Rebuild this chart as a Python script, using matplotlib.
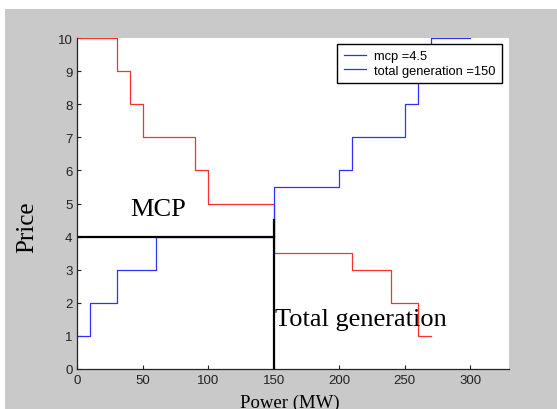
import matplotlib
matplotlib.use('Agg')
import matplotlib.pyplot as plt
from matplotlib.lines import Line2D
from matplotlib.patches import Rectangle

# demand curve (red) and supply curve (blue), step-wise
demand_x = [0, 30, 40, 50, 90, 100, 150, 210, 240, 260, 270]
demand_y = [10, 9, 8, 7, 6, 5, 3.5, 3, 2, 1, 1]
supply_x = [0, 10, 30, 60, 150, 200, 210, 250, 260, 270, 300]
supply_y = [1, 2, 3, 4, 5.5, 6, 7, 8, 9, 10, 10]

mcp_price = 4
total_gen = 150
gen_line_top = 4.5
legend_labels = ['mcp =4.5', 'total generation =150']

fig = plt.figure(figsize=(5.57, 4.10), dpi=100)
fig.patch.set_facecolor('white')
# grey backdrop like the original slide
fig.patches.append(Rectangle((5 / 557, 0), 1, 400 / 410, transform=fig.transFigure,
                             facecolor='#c9c9c9', edgecolor='none', zorder=-10))

ax = fig.add_axes([77.3 / 557, 40 / 410, 432 / 557, 331 / 410])
ax.set_facecolor('white')

ax.step(demand_x, demand_y, where='post', color='#ff3030', lw=0.9)
ax.step(supply_x, supply_y, where='post', color='#3030ff', lw=0.9)

# MCP and total generation lines
ax.plot([0, total_gen], [mcp_price, mcp_price], color='black', lw=1.6)
ax.plot([total_gen, total_gen], [0, gen_line_top], color='black', lw=1.6)

ax.text(40.3, 4.66, 'MCP', family='Liberation Serif', fontsize=19, va='baseline')
ax.text(151, 1.32, 'Total generation', family='Liberation Serif', fontsize=19, va='baseline')

ax.set_xlim(0, 330)
ax.set_ylim(0, 10)
ax.set_xticks(range(0, 301, 50))
ax.set_yticks(range(0, 11))
for s in ['top', 'right']:
    ax.spines[s].set_visible(False)
for s in ['left', 'bottom']:
    ax.spines[s].set_color('#222222')
    ax.spines[s].set_linewidth(0.9)
ax.tick_params(direction='in', length=3, width=0.8, colors='#222222', pad=3.5)
for lab in ax.get_xticklabels() + ax.get_yticklabels():
    lab.set_family('Liberation Sans')
    lab.set_fontsize(9.5)

ax.set_xlabel('Power (MW)', family='Liberation Serif', fontsize=13.5, va='top')
ax.xaxis.set_label_coords(0.492, -0.075)
ax.set_ylabel('Price', family='Liberation Serif', fontsize=18)
ax.yaxis.set_label_coords(-0.09, 0.432)

handles = [Line2D([], [], color='#3030ff', lw=0.9) for _ in legend_labels]
leg = ax.legend(handles, legend_labels, loc='upper right', bbox_to_anchor=(0.982, 0.983),
                borderaxespad=0, fancybox=False, framealpha=1, edgecolor='black',
                prop={'family': 'Liberation Sans', 'size': 9.3}, handlelength=1.7,
                handletextpad=0.6, borderpad=0.5, labelspacing=0.2)
leg.get_frame().set_linewidth(1.0)

fig.savefig('out.png', dpi=100)
